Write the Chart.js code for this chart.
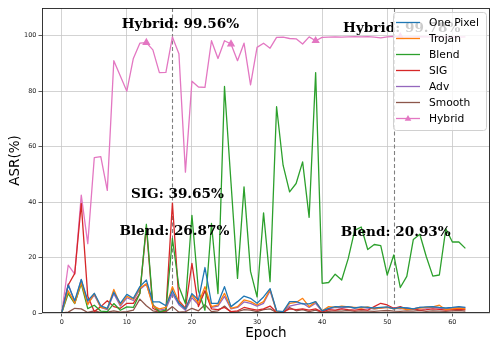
<!DOCTYPE html>
<html>
<head>
<meta charset="utf-8">
<script src="https://cdn.jsdelivr.net/npm/chart.js@4.4.1/dist/chart.umd.min.js"></script>
<style>
html,body{margin:0;padding:0;background:#fff;}
#wrap{width:498px;height:349px;position:relative;}
</style>
</head>
<body>
<div id="wrap"><canvas id="c" width="498" height="349"></canvas></div>
<script>
// ---- data ----
const epochs = Array.from({length: 63}, (_, i) => i);
const seriesNames = ["One Pixel", "Trojan", "Blend", "SIG", "Adv", "Smooth", "Hybrid"];
const onePixel = [0,10,4.4,12.1,4.4,7.1,2.6,1.7,7.5,3.5,6.7,5.3,9.5,11.9,4,4,2.6,8,3.5,1.5,7,4.7,16.4,3.5,3.5,9.5,2.3,4.1,6.1,5.3,3.5,5.8,8.8,0.8,0.5,4.1,4.1,3.3,3.3,4.1,0.8,1.7,2.3,2.2,2.3,1.8,2.2,2.0,1.8,2.0,2.2,1.5,2.0,1.8,1.5,2.0,2.2,2.3,2.0,1.8,2.0,2.3,2.0];
const trojan = [0,8,3.5,11,3,7,2,1.5,8.5,3,6,5,9,10.5,2.5,1.5,2,9.5,4,1.5,6.5,3.5,9.5,2.3,2.9,7.1,1.7,2.3,4.7,4.1,2.9,4.1,8.5,0.5,0.5,3.5,3.8,5.3,2.3,4.1,0.8,2.3,2.0,2.5,2.2,2.0,1.8,2.2,1.5,1.8,2.0,1.5,1.8,1.2,1.5,1.8,2.0,2.2,2.8,1.2,1.5,1.8,1.5];
const blend = [0,7,3.4,10.5,1.6,2.8,0.7,0.5,3.4,1,2.2,2,7,32,2.8,0.4,1,26.87,9.5,3.4,35.2,8,1,32.3,7,81.7,47,12.5,45.5,15,5.8,36.1,11.3,74.4,53.3,43.7,46.7,54.5,34.5,86.7,10.7,11,14,11.9,19.6,29.8,31,22.9,24.7,24.3,13.7,20.93,9.2,13.2,26.5,28.4,20.3,13.3,13.7,30.4,25.6,25.6,23.3];
const sig = [0,10.1,14.3,39.5,6,0.5,2.3,4.4,2.3,1.7,3.5,3.5,7.1,31,1.7,0.5,0.8,39.65,4.4,1.7,17.9,2.3,8,1.5,1.2,2,0.5,0.8,2,1.5,1,1.5,2.5,0.3,0.3,1.5,1.2,1.5,1.0,1.5,0.3,1.2,1.0,1.5,1.2,1.0,1.3,1.0,2.3,3.5,2.9,1.7,2.3,1.3,1.5,1.0,1.2,1.5,1.3,1.0,1.2,1.3,1.2];
const adv = [0,10.5,3.8,12,3.5,6.5,2,1.2,7,2.5,5.5,4.5,8.5,10.5,3,1,1.5,7,3,1,5.5,3,8,2,2.5,6,1.5,2,4,3.5,2.5,3.5,8,0.5,0.5,2.5,3,3.5,2,3.5,0.5,1.5,2,1.8,2.2,1.8,2,1.8,1.5,1.8,2,1.8,1.5,1.8,1.5,2,1.8,2,1.8,1.5,1.8,2,1.8];
const smooth = [0,0.3,1.7,1.5,0.2,0.8,0.2,0.3,0.8,0.3,0.5,1,5,2.6,0.8,0.3,0.5,2.3,0.3,0.5,1.7,0.8,3,0.5,0.8,2.5,0.3,0.5,1.2,1,0.5,1.2,1.5,0.2,0.2,2,0.8,1.2,0.5,1,0.2,0.6,0.8,0.7,0.9,0.6,0.8,0.7,0.6,0.8,0.9,0.7,0.6,0.8,0.7,0.9,0.6,0.8,0.7,0.6,0.8,0.9,0.7];
const hybrid = [0,17.3,14,42.5,25,56,56.4,44.2,91,85.5,80,91.8,97.3,97.5,94.9,86.7,86.8,99.56,93.5,50.8,83.6,81.5,81.4,98.2,91.8,98.2,97,91,97.3,82.3,95.8,97.3,95.5,99.4,99.5,99,98.9,97,99.6,98.2,99.4,99.5,99.6,99.5,99.6,99.7,99.6,99.7,99.5,99.2,99.6,99.78,99.6,99.5,99.6,99.7,99.6,99.5,99.7,99.4,99.6,99.5,99.6];
const hybridMarkerEpochs = [13, 26, 39, 52];
const xTicks = [0, 10, 20, 30, 40, 50, 60];
const yTicks = [0, 20, 40, 60, 80, 100];
const markEpochs = [17, 51];
const annoTexts = ["Hybrid: 99.56%", "Hybrid: 99.78%", "SIG: 39.65%", "Blend: 26.87%", "Blend: 20.93%"];
const annoEpochs = [17, 51, 17, 17, 51];
const annoY = [104, 102.5, 42.8, 29.5, 29];

// ---- styling ----
const colors = ["#1f77b4", "#ff7f0e", "#2ca02c", "#d62728", "#9467bd", "#8c564b", "#e377c2"];
const allSeries = [onePixel, trojan, blend, sig, adv, smooth, hybrid];
const annoDx = [8, 8, 5, 2, 2];

const datasets = allSeries.map((vals, k) => ({
  label: seriesNames[k],
  data: epochs.map((e, i) => ({x: e, y: vals[i]})),
  borderColor: colors[k],
  backgroundColor: colors[k],
  borderWidth: 1.3,
  pointStyle: 'triangle',
  pointRadius: k === 6 ? epochs.map(e => hybridMarkerEpochs.includes(e) ? 3.5 : 0) : 0,
  pointHoverRadius: 0,
  tension: 0,
  fill: false
}));

const custom = {
  id: 'custom',
  beforeDatasetsDraw(chart) {
    const {ctx, chartArea: a, scales: {x}} = chart;
    ctx.save();
    ctx.strokeStyle = '#808080';
    ctx.lineWidth = 1.1;
    ctx.setLineDash([4, 2.5]);
    markEpochs.forEach(e => {
      const px = Math.round(x.getPixelForValue(e)) + 0.5;
      ctx.beginPath(); ctx.moveTo(px, a.top); ctx.lineTo(px, a.bottom); ctx.stroke();
    });
    ctx.restore();
  },
  afterDatasetsDraw(chart) {
    const {ctx, chartArea: a, scales: {x, y}} = chart;
    ctx.save();
    // frame
    ctx.strokeStyle = '#222';
    ctx.lineWidth = 0.9;
    ctx.strokeRect(a.left + 0.5, a.top + 0.5, a.right - a.left - 1, a.bottom - a.top - 1);
    // annotations
    ctx.fillStyle = '#000';
    ctx.font = 'bold 13.6px "DejaVu Serif"';
    ctx.textAlign = 'center';
    ctx.textBaseline = 'middle';
    annoTexts.forEach((t, i) => {
      ctx.fillText(t, x.getPixelForValue(annoEpochs[i]) + annoDx[i], y.getPixelForValue(annoY[i]));
    });
    // axis titles
    ctx.font = '13.5px "DejaVu Sans"';
    ctx.fillText('Epoch', (a.left + a.right) / 2, 333);
    ctx.save();
    ctx.translate(15, (a.top + a.bottom) / 2);
    ctx.rotate(-Math.PI / 2);
    ctx.fillText('ASR(%)', 0, 0);
    ctx.restore();
    // legend
    const lx = 393, ly = 12, lw = 93, lh = 118;
    ctx.beginPath();
    if (ctx.roundRect) ctx.roundRect(lx + 0.5, ly + 0.5, lw, lh, 3); else ctx.rect(lx + 0.5, ly + 0.5, lw, lh);
    ctx.fillStyle = 'rgba(255,255,255,0.8)';
    ctx.fill();
    ctx.strokeStyle = '#d0d0d0';
    ctx.lineWidth = 1;
    ctx.stroke();
    ctx.font = '10.7px "DejaVu Sans"';
    ctx.textAlign = 'left';
    ctx.textBaseline = 'middle';
    chart.data.datasets.forEach((ds, i) => {
      const cy = 22.5 + i * 16;
      ctx.strokeStyle = ds.borderColor;
      ctx.lineWidth = 1.3;
      ctx.beginPath(); ctx.moveTo(396, cy); ctx.lineTo(420, cy); ctx.stroke();
      if (i === 6) {
        ctx.fillStyle = ds.borderColor;
        ctx.beginPath();
        ctx.moveTo(408, cy - 3.5); ctx.lineTo(411.3, cy + 2.2); ctx.lineTo(404.7, cy + 2.2); ctx.closePath();
        ctx.fill();
      }
      ctx.fillStyle = '#000';
      ctx.fillText(ds.label, 429, cy + 0.5);
    });
    ctx.restore();
  }
};

new Chart(document.getElementById('c'), {
  type: 'line',
  data: {datasets},
  options: {
    responsive: false,
    animation: false,
    devicePixelRatio: 1,
    layout: {padding: {top: 8, right: 8, left: 0, bottom: 0}},
    plugins: {legend: {display: false}, tooltip: {enabled: false}},
    elements: {line: {borderJoinStyle: 'round'}},
    scales: {
      x: {
        type: 'linear', min: -3.03, max: 65.78,
        afterBuildTicks: s => { s.ticks = xTicks.map(v => ({value: v})); },
        afterFit: s => { s.height = 36; },
        grid: {color: '#c8c8c8', lineWidth: 0.8, tickLength: 3.5, tickColor: '#333', drawTicks: true},
        border: {display: false},
        ticks: {font: {family: 'DejaVu Sans', size: 6.5}, color: '#222', padding: 2, maxRotation: 0, autoSkip: false}
      },
      y: {
        type: 'linear', min: 0, max: 110,
        afterBuildTicks: s => { s.ticks = yTicks.map(v => ({value: v})); },
        afterFit: s => { s.width = 42; },
        grid: {color: '#c8c8c8', lineWidth: 0.8, tickLength: 3.5, tickColor: '#333', drawTicks: true},
        border: {display: false},
        ticks: {font: {family: 'DejaVu Sans', size: 6.5}, color: '#222', padding: 2, autoSkip: false}
      }
    }
  },
  plugins: [custom]
});
</script>
</body>
</html>
